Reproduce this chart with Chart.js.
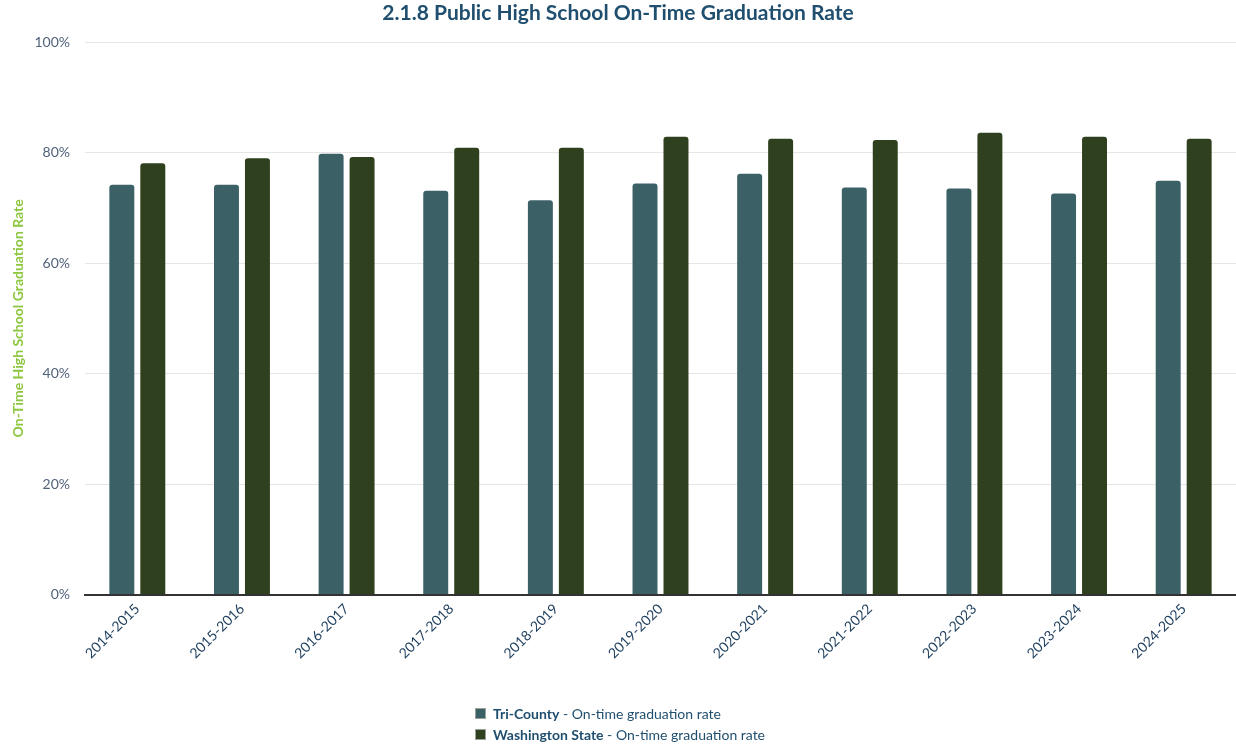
<!DOCTYPE html>
<html lang="en">
<head>
    <meta charset="UTF-8">
    <title>2.1.8 Public High School On-Time Graduation Rate</title>
    <style>
        body {
            margin: 0;
            padding: 0;
            background-color: #ffffff;
            font-family: Lato, Arial, sans-serif;
        }

        #wrap {
            position: relative;
            width: 1236px;
            height: 750px;
        }

        #chartBox {
            position: absolute;
            left: 0;
            top: 0;
            width: 1236px;
            height: 750px;
        }

        #legend {
            position: absolute;
            left: 0;
            top: 703px;
            width: 1236px;
            display: flex;
            flex-direction: column;
            align-items: center;
            font-size: 14px;
            color: #1f4e6e;
        }

        #legend .inner {
            display: flex;
            flex-direction: column;
            align-items: flex-start;
        }

        #legend .item {
            display: flex;
            align-items: center;
            height: 21px;
            margin-left: 4px;
            white-space: pre;
        }

        #legend .box {
            width: 11px;
            height: 11px;
            margin-right: 7px;
            border: 1px solid #9aa39a;
            box-sizing: border-box;
        }
    </style>
    <script src="https://cdn.jsdelivr.net/npm/chart.js"></script>
</head>
<body>
    <div id="wrap">
        <div id="chartBox">
            <canvas id="gradChart"></canvas>
        </div>
        <div id="legend"><div class="inner" id="legendInner"></div></div>
    </div>

    <script>
        // school years
        const years = ['2014-2015', '2015-2016', '2016-2017', '2017-2018', '2018-2019',
            '2019-2020', '2020-2021', '2021-2022', '2022-2023', '2023-2024', '2024-2025'];

        // on-time graduation rate (%)
        const triCounty = [74.2, 74.2, 79.8, 73.1, 71.4, 74.4, 76.2, 73.7, 73.5, 72.6, 74.9];
        const waState = [78.1, 79.0, 79.2, 80.9, 80.9, 82.9, 82.5, 82.3, 83.6, 82.9, 82.5];

        const yTicks = [0, 20, 40, 60, 80, 100];

        const seriesNames = ['Tri-County', 'Washington State'];
        const seriesNote = ' - On-time graduation rate';
        const seriesColors = ['#3b6167', '#2e401d'];

        const chartConfig = {
            type: 'bar',
            data: {
                labels: years,
                datasets: [
                    {
                        label: seriesNames[0] + seriesNote,
                        data: triCounty,
                        backgroundColor: seriesColors[0],
                        borderRadius: 3,
                        borderSkipped: 'bottom',
                        categoryPercentage: 0.592,
                        barPercentage: 0.806
                    },
                    {
                        label: seriesNames[1] + seriesNote,
                        data: waState,
                        backgroundColor: seriesColors[1],
                        borderRadius: 3,
                        borderSkipped: 'bottom',
                        categoryPercentage: 0.592,
                        barPercentage: 0.806
                    }
                ]
            },
            options: {
                responsive: true,
                maintainAspectRatio: false,
                animation: false,
                layout: {
                    padding: { left: 0, right: 0, top: 0, bottom: 82 }
                },
                plugins: {
                    legend: { display: false },
                    tooltip: { enabled: false },
                    title: {
                        display: true,
                        text: '2.1.8 Public High School On-Time Graduation Rate',
                        color: '#1f4e6e',
                        font: { family: 'Lato', size: 21, weight: 'bold' },
                        padding: { top: 1, bottom: 16 }
                    }
                },
                scales: {
                    x: {
                        grid: { display: false, drawTicks: false },
                        border: { display: true, color: '#333333', width: 2 },
                        ticks: {
                            color: '#1f3f5e',
                            font: { family: 'Lato', size: 14 },
                            maxRotation: 45,
                            minRotation: 45,
                            padding: 6
                        }
                    },
                    y: {
                        min: 0,
                        max: 100,
                        afterBuildTicks: (axis) => {
                            axis.ticks = yTicks.map(v => ({ value: v }));
                        },
                        afterFit: (axis) => {
                            axis.width = 85;
                        },
                        grid: { color: '#e6e6e6', drawTicks: false },
                        border: { display: false },
                        ticks: {
                            color: '#51627a',
                            font: { family: 'Lato', size: 14 },
                            padding: 15,
                            callback: (v) => v + '%'
                        },
                        title: {
                            display: true,
                            text: 'On-Time High School Graduation Rate',
                            color: '#8dc63f',
                            font: { family: 'Lato', size: 14, weight: 'bold' },
                            padding: { top: 10, bottom: 6 }
                        }
                    }
                }
            }
        };

        const gradChart = new Chart(document.getElementById('gradChart'), chartConfig);

        // legend with bold series name, like the original
        const legendInner = document.getElementById('legendInner');
        seriesNames.forEach((name, i) => {
            const item = document.createElement('div');
            item.className = 'item';
            const box = document.createElement('span');
            box.className = 'box';
            box.style.backgroundColor = seriesColors[i];
            const b = document.createElement('b');
            b.textContent = name;
            const rest = document.createElement('span');
            rest.textContent = seriesNote;
            item.appendChild(box);
            item.appendChild(b);
            item.appendChild(rest);
            legendInner.appendChild(item);
        });
    </script>
</body>
</html>
